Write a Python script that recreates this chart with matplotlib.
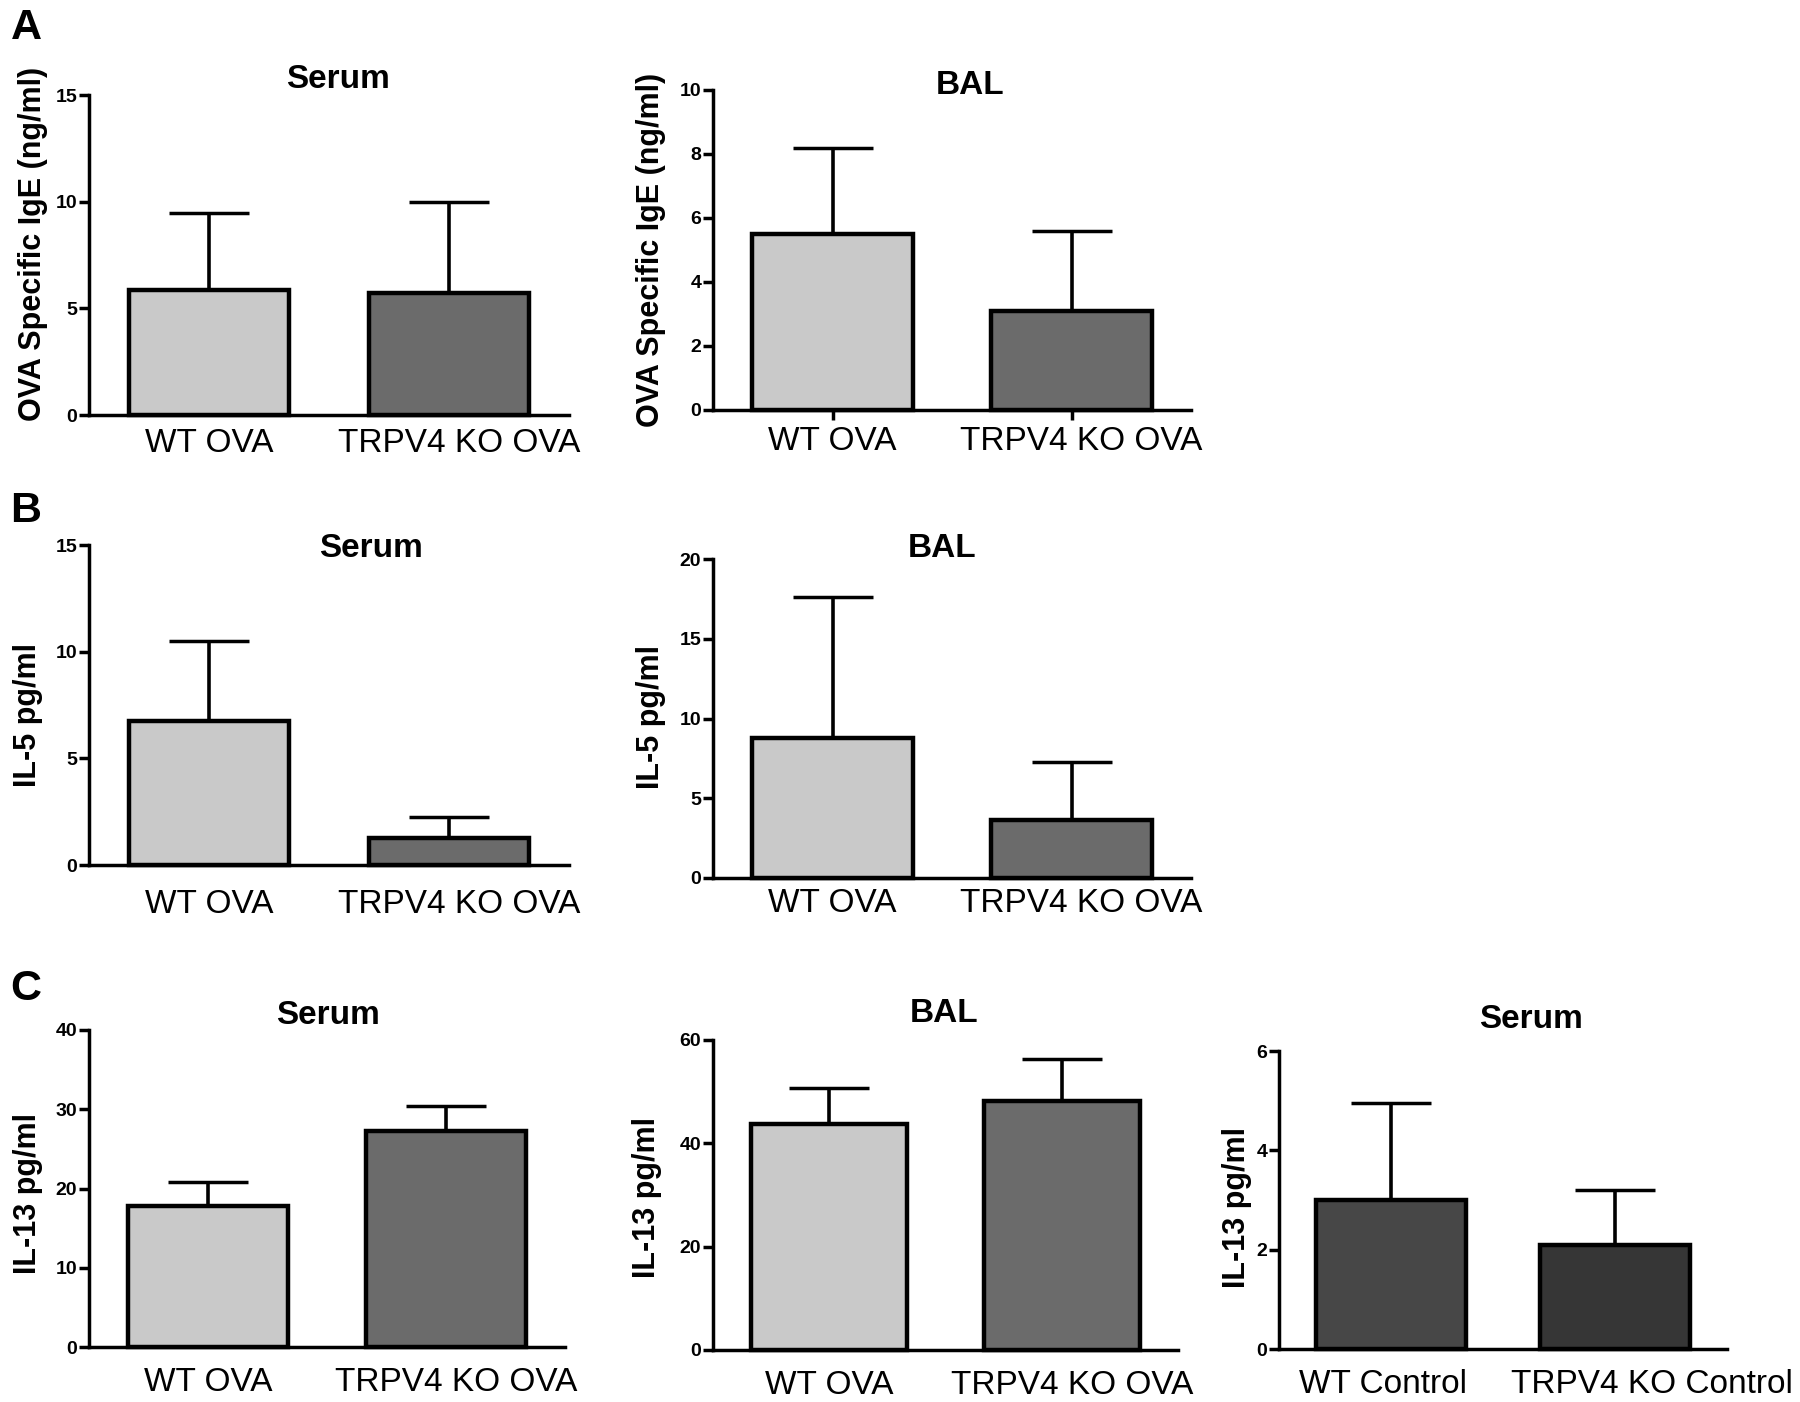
import matplotlib
matplotlib.use("Agg")
import matplotlib.pyplot as plt
import matplotlib.transforms as mtransforms
import numpy as np

plt.rcParams['font.family'] = ['Liberation Sans', 'DejaVu Sans']

# ---------------- data ----------------
cats_ova = ["WT OVA", "TRPV4 KO OVA"]
cats_ctrl = ["WT Control", "TRPV4 KO Control"]

a_serum_mean = [5.85, 5.7]
a_serum_err = [3.6, 4.3]
a_bal_mean = [5.5, 3.1]
a_bal_err = [2.7, 2.5]

b_serum_mean = [6.75, 1.27]
b_serum_err = [3.75, 1.0]
b_bal_mean = [8.8, 3.65]
b_bal_err = [8.8, 3.65]

c_serum_mean = [17.8, 27.3]
c_serum_err = [3.0, 3.1]
c_bal_mean = [43.8, 48.2]
c_bal_err = [6.9, 8.1]
c_ctrl_mean = [3.0, 2.09]
c_ctrl_err = [1.95, 1.11]

light = "#c9c9c9"
dark = "#6b6b6b"
ctrl_cols = ["#474747", "#363636"]

W, H = 1800, 1402
fig = plt.figure(figsize=(W / 100, H / 100), dpi=100)
fig.patch.set_facecolor("white")


def panel(x0, x1, ytop, ybot, cats, means, errs, cols, yticks, ylabel,
          title, tpos, lab_right, lab_cy, xpad, xticks_on=False,
          label_shift=(0, 10)):
    ax = fig.add_axes([x0 / W, 1 - ybot / H, (x1 - x0) / W, (ybot - ytop) / H])
    x = np.arange(len(cats))
    ax.errorbar(x, means, yerr=[np.zeros(len(errs)), errs], fmt="none",
                ecolor="black", elinewidth=2.6, capsize=29, capthick=2.5,
                zorder=2)
    ax.bar(x, means, width=0.67, color=cols, edgecolor="black",
           linewidth=3.2, zorder=3, clip_on=False)
    ax.set_xlim(-0.5, 1.5)
    ax.set_ylim(yticks[0], yticks[-1])
    for s in ["top", "right"]:
        ax.spines[s].set_visible(False)
    for s in ["left", "bottom"]:
        ax.spines[s].set_linewidth(2.5)
    ax.set_yticks(yticks, labels=[str(t) for t in yticks],
                  fontsize=14, fontweight="bold")
    ax.tick_params(axis="y", direction="out", length=7, width=2.5, pad=1.5)
    ax.set_xticks(x, labels=cats, fontsize=24)
    ax.tick_params(axis="x", direction="out",
                   length=7 if xticks_on else 0, width=2.5, pad=xpad)
    for lbl, dx in zip(ax.get_xticklabels(), label_shift):
        lbl.set_transform(lbl.get_transform() + mtransforms.ScaledTranslation(
            dx / 100, 0, fig.dpi_scale_trans))
    ax.set_ylabel(ylabel, fontsize=22, fontweight="bold")
    ax.yaxis.set_label_coords((lab_right - x0) / (x1 - x0),
                              (ybot - lab_cy) / (ybot - ytop))
    fig.text(tpos[0] / W, 1 - tpos[1] / H, title, fontsize=24,
             fontweight="bold", ha="center", va="center")
    return ax


# Row A
panel(89, 569, 95, 415, cats_ova, a_serum_mean, a_serum_err, [light, dark],
      [0, 5, 10, 15], "OVA Specific IgE (ng/ml)", "Serum", (338, 80),
      48, 244, 9.5)
panel(713, 1191, 90, 410, cats_ova, a_bal_mean, a_bal_err, [light, dark],
      [0, 2, 4, 6, 8, 10], "OVA Specific IgE (ng/ml)", "BAL", (970, 85),
      666, 250, 4.5, xticks_on=True)

# Row B
panel(89, 569, 545, 865, cats_ova, b_serum_mean, b_serum_err, [light, dark],
      [0, 5, 10, 15], "IL-5 pg/ml", "Serum", (371, 548),
      43, 715, 17)
panel(713, 1191, 559, 878, cats_ova, b_bal_mean, b_bal_err, [light, dark],
      [0, 5, 10, 15, 20], "IL-5 pg/ml", "BAL", (942, 548),
      666, 717, 7.5)

# Row C
panel(89, 565, 1030, 1347, cats_ova, c_serum_mean, c_serum_err, [light, dark],
      [0, 10, 20, 30, 40], "IL-13 pg/ml", "Serum", (328, 1015),
      43, 1194, 14.5)
panel(713, 1178, 1040, 1350, cats_ova, c_bal_mean, c_bal_err, [light, dark],
      [0, 20, 40, 60], "IL-13 pg/ml", "BAL", (944, 1013),
      662, 1198, 14.5)
panel(1279, 1727, 1051, 1349, cats_ctrl, c_ctrl_mean, c_ctrl_err, ctrl_cols,
      [0, 2, 4, 6], "IL-13 pg/ml", "Serum", (1531, 1020),
      1252, 1208, 14.5, label_shift=(-8, 37))

# Panel letters
for letter, (px, py) in {"A": (26, 28), "B": (26, 511), "C": (26, 989)}.items():
    fig.text(px / W, 1 - py / H, letter, fontsize=31, fontweight="bold",
             ha="center", va="center")

fig.savefig("out.png", dpi=100, facecolor="white")
